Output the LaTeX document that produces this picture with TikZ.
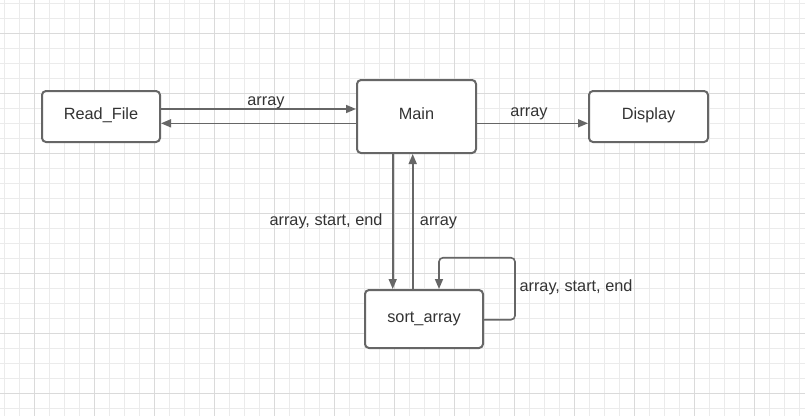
\documentclass[tikz,border=0pt]{standalone}
\usepackage{fontspec}
\setmainfont{Liberation Sans}
\usetikzlibrary{arrows.meta,calc}
\definecolor{gridl}{HTML}{EBEBEB}
\definecolor{gridd}{HTML}{DADADA}
\definecolor{linec}{HTML}{666666}
\definecolor{txt}{HTML}{333333}
\begin{document}
\begin{tikzpicture}[x=1pt,y=-1pt,
  font=\fontsize{16.3}{19}\selectfont,
  box/.style={draw=linec, line width=2pt, rounded corners=4pt, fill=white, text=txt, inner sep=0pt, text height=12pt, text depth=6pt},
  conn/.style={draw=linec, line width=1.6pt, -{Triangle[length=10pt,width=8pt]}},
  lbl/.style={text=txt, inner sep=0pt, anchor=base}]
\fill[white] (0,0) rectangle (805,416);
\useasboundingbox (0,0) rectangle (805,416);
\foreach \i in {0,...,53} \draw[gridl, line width=1pt] (4.7+15*\i,0) -- (4.7+15*\i,416);
\foreach \j in {0,...,27} \draw[gridl, line width=1pt] (0,3.3+15*\j) -- (805,3.3+15*\j);
\foreach \i in {0,...,13} \draw[gridd, line width=1pt] (34.7+60*\i,0) -- (34.7+60*\i,416);
\foreach \j in {0,...,6} \draw[gridd, line width=1pt] (0,33.3+60*\j) -- (805,33.3+60*\j);

\node[box, minimum width=118pt, minimum height=51pt] (rf) at (101,116.5) {Read\_File};
\node[box, minimum width=119pt, minimum height=73pt] (main) at (416.5,116.5) {Main};
\node[box, minimum width=119pt, minimum height=51pt] (disp) at (648.5,116.5) {Display};
\node[box, minimum width=118pt, minimum height=58pt] (sort) at (424,319) {sort\_array};

\draw[conn] ([yshift=7.5pt]rf.east) -- ([yshift=7.5pt]rf.east -| main.west);
\draw[conn] ([yshift=-6.8pt]main.west) -- ([yshift=-6.8pt]main.west -| rf.east);
\draw[conn] ([yshift=-6.8pt]main.east) -- ([yshift=-6.8pt]main.east -| disp.west);
\draw[conn] ([xshift=-23.8pt]main.south) -- ([xshift=-23.8pt]main.south |- sort.north);
\draw[conn] ([xshift=-11.3pt]sort.north) -- ([xshift=-11.3pt]sort.north |- main.south);
\coordinate (la) at (515,257.7);
\draw[conn, rounded corners=4pt] ([yshift=-0.7pt]sort.east) -| (la) -| ([xshift=15pt]sort.north);

\node[lbl] (l1) at (266,105) {array};
\node[lbl] (l2) at (529,116.5) {array};
\node[lbl] (l3) at (326,225) {array, start, end};
\node[lbl] (l4) at (438.5,225) {array};
\node[lbl] (l5) at (576,291.5) {array, start, end};
\end{tikzpicture}
\end{document}
